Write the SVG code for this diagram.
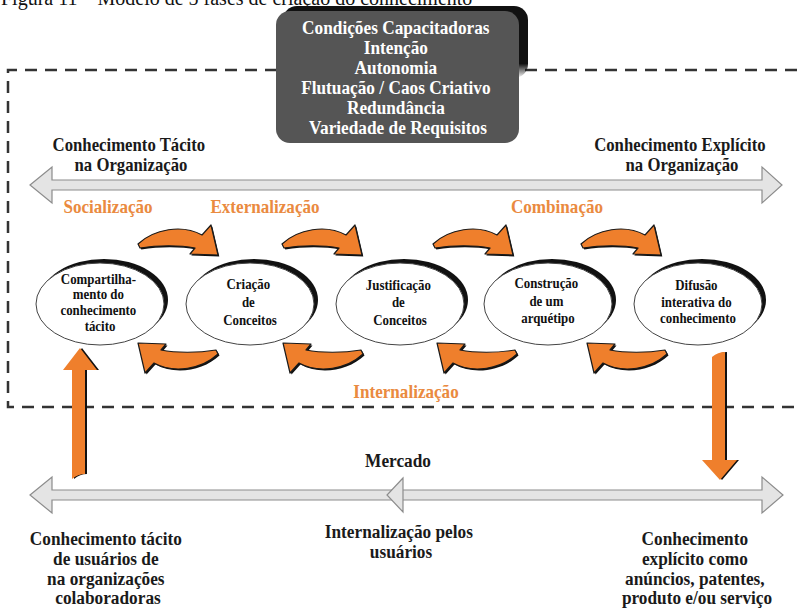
<svg xmlns="http://www.w3.org/2000/svg" xmlns:xlink="http://www.w3.org/1999/xlink" width="797" height="609" viewBox="0 0 797 609">
  <style>
    text { font-family: "Liberation Serif", "Times New Roman", serif; font-weight: bold; }
    .title { font-weight: normal; font-size: 20px; fill: #111; }
    .blk { fill: #1a1a1a; font-size: 18px; }
    .org { fill: #EA8A40; font-size: 18px; }
    .box { fill: #ffffff; font-size: 18px; }
    .node { fill: #111111; font-size: 15px; }
    .dash { fill: none; stroke: #333333; stroke-width: 2.5; stroke-dasharray: 12 8; }
    .shaft { fill: #e4e4e4; stroke: #8c8c8c; stroke-width: 1.2; }
    .curl { fill: #EF7F2C; stroke: #1a1a1a; stroke-width: 1.2; stroke-linejoin: round; }
    .curl-sh { fill: #111111; }
    .ell { fill: #ffffff; stroke: #444444; stroke-width: 1; }
    .ell-sh { fill: #111111; }
  </style>
  <defs>
    <!-- curved transfer arrow, tail on the left, head pointing down-right -->
    <path id="curl" d="M0 18 C16 3 44 -2 64 9 L73 -1 L80 29 L52 28 L57 22 C42 19 20 19 2 22 Z"/>
    <linearGradient id="shadowFade" x1="0" y1="0" x2="0" y2="1">
      <stop offset="0" stop-color="#111111"/>
      <stop offset="0.8" stop-color="#111111"/>
      <stop offset="1" stop-color="#111111" stop-opacity="0"/>
    </linearGradient>
  </defs>

  <rect width="797" height="609" fill="#ffffff"/>

  <!-- caption, cropped at the top edge -->
  <text class="title" x="1" y="5">Figura 11 – Modelo de 5 fases de criação do conhecimento</text>

  <!-- organisation boundary -->
  <path class="dash" d="M797 70 H8 V407 H797"/>

  <!-- enabling conditions -->
  <g id="conditions">
    <rect x="283" y="6" width="245" height="72" rx="14" fill="url(#shadowFade)"/>
    <rect x="276" y="11" width="243" height="132" rx="14" fill="#555555"/>
    <text class="box" transform="translate(398 0) scale(0.96 1)" text-anchor="middle">
      <tspan x="0" y="34">Condições Capacitadoras</tspan>
      <tspan x="0" y="54">Intenção</tspan>
      <tspan x="0" y="74">Autonomia</tspan>
      <tspan x="0" y="94">Flutuação / Caos Criativo</tspan>
      <tspan x="0" y="114">Redundância</tspan>
      <tspan x="0" y="134">Variedade de Requisitos</tspan>
    </text>
  </g>

  <!-- axis labels -->
  <g id="tacit-org">
    <text class="blk" transform="translate(131 0) scale(0.93 1)" text-anchor="middle">
      <tspan x="0" y="151">Conhecimento Tácito</tspan>
      <tspan x="0" y="171">na Organização</tspan>
    </text>
  </g>
  <g id="explicit-org">
    <text class="blk" transform="translate(682 0) scale(0.93 1)" text-anchor="middle">
      <tspan x="0" y="151">Conhecimento Explícito</tspan>
      <tspan x="0" y="171">na Organização</tspan>
    </text>
  </g>

  <!-- SECI labels -->
  <g id="seci-labels">
    <text class="org" transform="translate(108 0) scale(0.95 1)" text-anchor="middle" x="0" y="213">Socialização</text>
    <text class="org" transform="translate(265 0) scale(0.95 1)" text-anchor="middle" x="0" y="213">Externalização</text>
    <text class="org" transform="translate(557 0) scale(0.95 1)" text-anchor="middle" x="0" y="213">Combinação</text>
    <text class="org" transform="translate(406 0) scale(0.95 1)" text-anchor="middle" x="0" y="398">Internalização</text>
  </g>

  <!-- phases -->
  <g id="phase1">
    <ellipse class="ell-sh" cx="104" cy="300" rx="64" ry="41"/>
    <ellipse class="ell" cx="100" cy="304" rx="64" ry="41"/>
    <text class="node" transform="translate(100 0) scale(0.86 1)" text-anchor="middle">
      <tspan x="0" y="284">Compartilha-</tspan>
      <tspan x="0" y="299.5">mento do</tspan>
      <tspan x="0" y="315">conhecimento</tspan>
      <tspan x="0" y="331">tácito</tspan>
    </text>
  </g>
  <g id="phase2">
    <ellipse class="ell-sh" cx="254" cy="300" rx="64" ry="41"/>
    <ellipse class="ell" cx="250" cy="304" rx="64" ry="41"/>
    <text class="node" transform="translate(250 0) scale(0.86 1)" text-anchor="middle">
      <tspan x="0" y="289">Criação</tspan>
      <tspan x="0" y="307">de</tspan>
      <tspan x="0" y="325">Conceitos</tspan>
    </text>
  </g>
  <g id="phase3">
    <ellipse class="ell-sh" cx="404" cy="300" rx="64" ry="41"/>
    <ellipse class="ell" cx="400" cy="304" rx="64" ry="41"/>
    <text class="node" transform="translate(400 0) scale(0.86 1)" text-anchor="middle">
      <tspan x="0" y="290">Justificação</tspan>
      <tspan x="0" y="307">de</tspan>
      <tspan x="0" y="325">Conceitos</tspan>
    </text>
  </g>
  <g id="phase4">
    <ellipse class="ell-sh" cx="552" cy="300" rx="64" ry="41"/>
    <ellipse class="ell" cx="548" cy="304" rx="64" ry="41"/>
    <text class="node" transform="translate(548 0) scale(0.86 1)" text-anchor="middle">
      <tspan x="0" y="288">Construção</tspan>
      <tspan x="0" y="306">de um</tspan>
      <tspan x="0" y="323">arquétipo</tspan>
    </text>
  </g>
  <g id="phase5">
    <ellipse class="ell-sh" cx="702" cy="300" rx="64" ry="41"/>
    <ellipse class="ell" cx="698" cy="304" rx="64" ry="41"/>
    <text class="node" transform="translate(698 0) scale(0.86 1)" text-anchor="middle">
      <tspan x="0" y="290">Difusão</tspan>
      <tspan x="0" y="307">interativa do</tspan>
      <tspan x="0" y="323">conhecimento</tspan>
    </text>
  </g>

  <!-- market labels -->
  <g id="market">
    <text class="blk" transform="translate(398 0) scale(0.96 1)" text-anchor="middle" x="0" y="467">Mercado</text>
  </g>
  <g id="user-internalisation">
    <text class="blk" transform="translate(401 0) scale(0.96 1)" text-anchor="middle">
      <tspan x="0" y="538">Internalização pelos</tspan>
      <tspan x="0" y="558">usuários</tspan>
    </text>
  </g>
  <g id="user-tacit">
    <text class="blk" transform="translate(108 0) scale(0.96 1)" text-anchor="middle">
      <tspan x="0" y="545">Conhecimento tácito</tspan>
      <tspan x="0" y="565">de usuários de</tspan>
      <tspan x="0" y="585">na organizações</tspan>
      <tspan x="0" y="604">colaboradoras</tspan>
    </text>
  </g>
  <g id="market-explicit">
    <text class="blk" transform="translate(697 0) scale(0.96 1)" text-anchor="middle">
      <tspan x="0" y="545">Conhecimento</tspan>
      <tspan x="0" y="565">explícito como</tspan>
      <tspan x="0" y="585">anúncios, patentes,</tspan>
      <tspan x="0" y="604">produto e/ou serviço</tspan>
    </text>
  </g>

  <!-- connectors -->
  <g id="connectors">
    <!-- tacit / explicit axis inside the organisation -->
    <path class="shaft" d="M30 185 L52 167 L52 180 L762 180 L762 167 L782 185 L762 203 L762 190 L52 190 L52 203 Z"/>
    <!-- market axis -->
    <path class="shaft" d="M30 495 L52 477 L52 490 L762 490 L762 477 L783 495 L762 513 L762 500 L52 500 L52 513 Z"/>
    <path class="shaft" d="M403 478 L387 495 L403 512 Z"/>

    <!-- forward transfers between phases -->
    <g transform="translate(139.3 227.5)"><use xlink:href="#curl" class="curl-sh"/></g>
    <g transform="translate(138 226)"><use xlink:href="#curl" class="curl"/></g>
    <g transform="translate(283.3 227.5)"><use xlink:href="#curl" class="curl-sh"/></g>
    <g transform="translate(282 226)"><use xlink:href="#curl" class="curl"/></g>
    <g transform="translate(434.3 227.5)"><use xlink:href="#curl" class="curl-sh"/></g>
    <g transform="translate(433 226)"><use xlink:href="#curl" class="curl"/></g>
    <g transform="translate(582.3 227.5)"><use xlink:href="#curl" class="curl-sh"/></g>
    <g transform="translate(581 226)"><use xlink:href="#curl" class="curl"/></g>

    <!-- backward transfers -->
    <g transform="translate(219.5 373.5) rotate(180)"><use xlink:href="#curl" class="curl-sh"/></g>
    <g transform="translate(218 372) rotate(180)"><use xlink:href="#curl" class="curl"/></g>
    <g transform="translate(364.5 373.5) rotate(180)"><use xlink:href="#curl" class="curl-sh"/></g>
    <g transform="translate(363 372) rotate(180)"><use xlink:href="#curl" class="curl"/></g>
    <g transform="translate(518.5 373.5) rotate(180)"><use xlink:href="#curl" class="curl-sh"/></g>
    <g transform="translate(517 372) rotate(180)"><use xlink:href="#curl" class="curl"/></g>
    <g transform="translate(668.5 373.5) rotate(180)"><use xlink:href="#curl" class="curl-sh"/></g>
    <g transform="translate(667 372) rotate(180)"><use xlink:href="#curl" class="curl"/></g>

    <!-- market tacit knowledge into the organisation -->
    <path d="M74 479 L74 370 L65 370 L82 348 L99 370 L87 370 L87 474 Q80 474 74 479 Z" fill="#111111"/>
    <path d="M72 479 L72 370 L63 370 L80 348 L97 370 L85 370 L85 474 Q78 474 72 479 Z" fill="#EF7F2C"/>
    <!-- diffused knowledge out to the market -->
    <path d="M714 357 Q720 352 727 352 L727 460 L739 460 L722 480 L704 460 L714 460 Z" fill="#111111"/>
    <path d="M712 357 Q718 352 725 352 L725 460 L737 460 L720 480 L702 460 L712 460 Z" fill="#EF7F2C"/>
  </g>
</svg>
